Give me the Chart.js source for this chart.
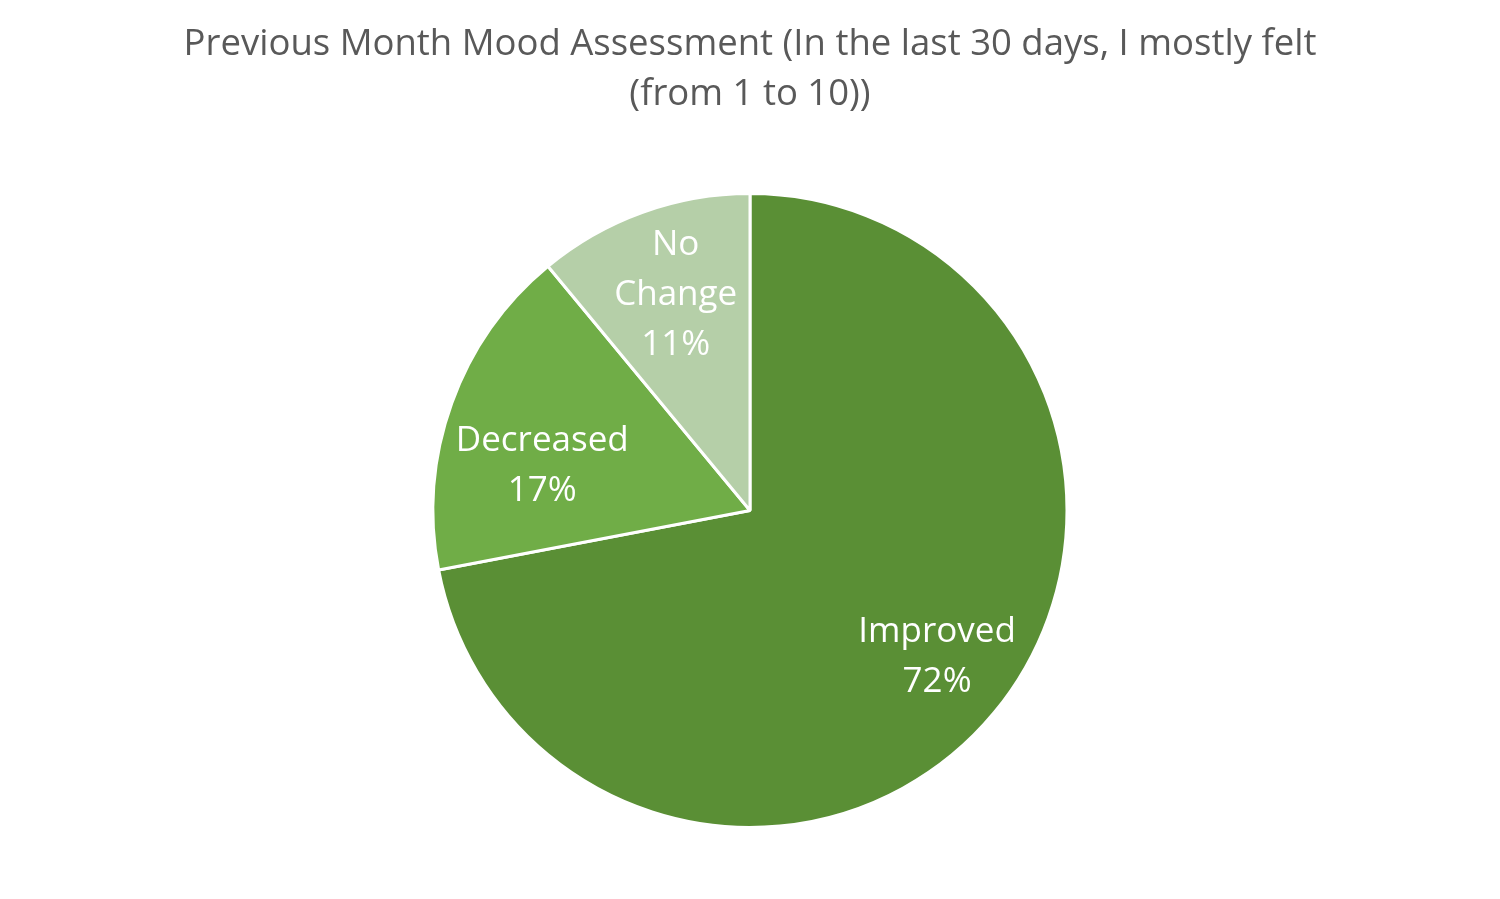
<!DOCTYPE html>
<html>
<head>
<meta charset="utf-8">
<script src="https://cdn.jsdelivr.net/npm/chart.js@4"></script>
<style>
  html, body { margin: 0; padding: 0; background: #fff; }
  #wrap { width: 1500px; height: 899px; }
</style>
</head>
<body>
<div id="wrap"><canvas id="myChart"></canvas></div>
<script>
var categories = ["Improved", "Decreased", "No Change"];
var percentages = [72, 17, 11];
var sliceColors = ["#5A8F35", "#70AD47", "#B5CFA8"];
var titleLines = ["Previous Month Mood Assessment (In the last 30 days, I mostly felt", "(from 1 to 10))"];

// label placement per slice: angle shift (deg), radial fraction
var labelTweaks = [[-1.5, 0.75], [-7.8, 0.67], [0.8, 0.72]];

var sliceLabels = {
  id: 'sliceLabels',
  afterDatasetsDraw: function(chart) {
    var c = chart.ctx;
    var meta = chart.getDatasetMeta(0);
    c.save();
    c.fillStyle = "#fff";
    c.font = "35px 'Open Sans'";
    c.textAlign = "center";
    c.textBaseline = "middle";
    meta.data.forEach(function(arc, i) {
      var p = arc.getProps(['x', 'y', 'startAngle', 'endAngle', 'outerRadius'], true);
      var mid = (p.startAngle + p.endAngle) / 2 + labelTweaks[i][0] * Math.PI / 180;
      var r = p.outerRadius * labelTweaks[i][1];
      var x = p.x + Math.cos(mid) * r;
      var y = p.y + Math.sin(mid) * r;
      var lines = categories[i] === "No Change" ? ["No", "Change"] : [categories[i]];
      lines.push(percentages[i] + "%");
      var lh = 50;
      var y0 = y - (lines.length - 1) * lh / 2;
      lines.forEach(function(t, k) { c.fillText(t, x, y0 + k * lh); });
    });
    c.restore();
  }
};

new Chart(document.getElementById("myChart"), {
  type: 'pie',
  data: {
    labels: categories,
    datasets: [{
      data: percentages,
      backgroundColor: sliceColors,
      borderColor: "#fff",
      borderWidth: 3
    }]
  },
  options: {
    responsive: true,
    maintainAspectRatio: false,
    animation: false,
    layout: { padding: { top: 0, bottom: 70 } },
    plugins: {
      legend: { display: false },
      tooltip: { enabled: false },
      title: {
        display: true,
        text: titleLines,
        color: "#595959",
        font: { family: "'Open Sans'", size: 36.5, weight: 'normal', lineHeight: 1.37 },
        padding: { top: 20, bottom: 72 }
      }
    }
  },
  plugins: [sliceLabels]
});
</script>
</body>
</html>
